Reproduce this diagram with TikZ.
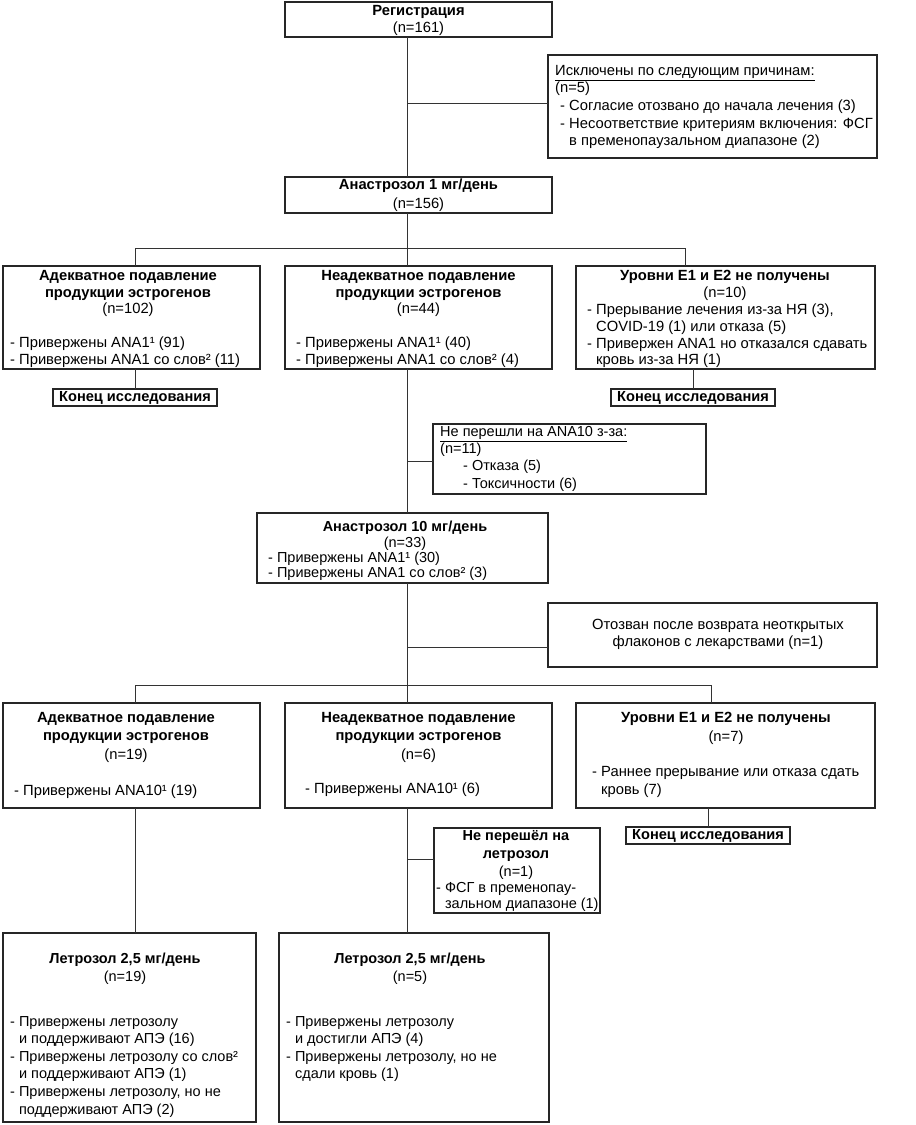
\documentclass[tikz,border=0pt]{standalone}
\usepackage{fontspec}
\setmainfont{Liberation Sans}
\begin{document}
\begin{tikzpicture}[x=1pt,y=-1pt,
  font=\fontsize{14.5}{16.8}\selectfont,
  box/.style={draw=black!85, line width=1.2pt, anchor=north west, inner sep=0pt, outer sep=0pt},
  endbox/.style={draw=black!85, line width=1.2pt, minimum width=164pt, minimum height=17pt, inner sep=0pt, outer sep=0pt, font=\fontsize{14.6}{16.8}\selectfont\bfseries},
  conn/.style={draw=black!80, line width=0.9pt},
  ttl/.style={anchor=north, align=center, inner sep=0pt},
  lst/.style={anchor=north west, align=left, inner sep=0pt},
  lsk/.style={font=\fontsize{14.5}{#1}\selectfont},
  tsk/.style={font=\fontsize{14.75}{#1}\selectfont},
]
\useasboundingbox (0,0) rectangle (916,1125);

% ---------- boxes ----------
\node[box, minimum width=267pt, minimum height=35pt]  (reg)  at (285,2) {};
\node[box, minimum width=329pt, minimum height=103pt] (excl) at (548,55) {};
\node[box, minimum width=267pt, minimum height=36pt]  (an1)  at (285,177) {};
\node[box, minimum width=257pt, minimum height=103pt] (ra)   at (3,266) {};
\node[box, minimum width=267pt, minimum height=103pt] (rb)   at (285,266) {};
\node[box, minimum width=299pt, minimum height=103pt] (rc)   at (576,266) {};
\node[endbox] (ea) at (135,397.5) {Конец исследования};
\node[endbox] (ec) at (693,397.5) {Конец исследования};
\node[box, minimum width=273pt, minimum height=70pt]  (np)   at (433,424) {};
\node[box, minimum width=291pt, minimum height=70pt]  (an10) at (257,513) {};
\node[box, minimum width=329pt, minimum height=64pt]  (ot)   at (548,603) {};
\node[box, minimum width=257pt, minimum height=105pt] (sa)   at (3,703) {};
\node[box, minimum width=267pt, minimum height=105pt] (sb)   at (285,703) {};
\node[box, minimum width=299pt, minimum height=105pt] (sc)   at (576,703) {};
\node[endbox] (ec3) at (708,835.5) {Конец исследования};
\node[box, minimum width=166pt, minimum height=85pt]  (nl)   at (434,828) {};
\node[box, minimum width=253pt, minimum height=189pt] (la)   at (3,933) {};
\node[box, minimum width=270pt, minimum height=189pt] (lb)   at (279,933) {};

% ---------- texts ----------
\node[ttl, tsk=17] at (418.5,5) {\textbf{Регистрация}\\(n=161)};
\node[lst, tsk=17.6] at (555,65) {\underline{Исключены по следующим причинам:}\\(n=5)\\\hspace*{5pt}- Согласие отозвано до начала лечения (3)\\\hspace*{5pt}- Несоответствие критериям включения: ФСГ\\\hspace*{5pt}\phantom{- }в пременопаузальном диапазоне (2)};
\node[ttl, tsk=19] at (418.5,179) {\textbf{Анастрозол 1 мг/день}\\(n=156)};

\node[ttl, tsk=16.8] at (128,270) {\textbf{Адекватное подавление}\\\textbf{продукции эстрогенов}\\(n=102)};
\node[lst, tsk=16.8] at (10,337) {- Привержены ANA1¹ (91)\\- Привержены ANA1 со слов² (11)};
\node[ttl, tsk=16.8] at (418.5,270) {\textbf{Неадекватное подавление}\\\textbf{продукции эстрогенов}\\(n=44)};
\node[lst, tsk=16.8] at (296,337) {- Привержены ANA1¹ (40)\\- Привержены ANA1 со слов² (4)};
\node[ttl, tsk=17] at (725,270) {\textbf{Уровни E1 и E2 не получены}\\(n=10)};
\node[lst, tsk=16.6] at (587,304) {- Прерывание лечения из-за НЯ (3),\\\phantom{- }COVID-19 (1) или отказа (5)\\- Привержен ANA1 но отказался сдавать\\\phantom{- }кровь из-за НЯ (1)};

\node[lst, lsk=17.3] at (440,426) {\underline{Не перешли на ANA10 з-за:}\\(n=11)\\\hspace*{23pt}- Отказа (5)\\\hspace*{23pt}- Токсичности (6)};

\node[ttl, lsk=16] at (405,521) {\textbf{Анастрозол 10 мг/день}\\(n=33)};
\node[lst, lsk=15] at (268,552) {- Привержены ANA1¹ (30)\\- Привержены ANA1 со слов² (3)};

\node[ttl, tsk=17] at (718,619) {Отозван после возврата неоткрытых\\флаконов с лекарствами (n=1)};

\node[ttl, tsk=18.5] at (126,712) {\textbf{Адекватное подавление}\\\textbf{продукции эстрогенов}\\(n=19)};
\node[lst, tsk=16] at (14,785) {- Привержены ANA10¹ (19)};
\node[ttl, tsk=18.5] at (418.5,712) {\textbf{Неадекватное подавление}\\\textbf{продукции эстрогенов}\\(n=6)};
\node[lst, tsk=16] at (305,783) {- Привержены ANA10¹ (6)};
\node[ttl, tsk=19] at (726,712) {\textbf{Уровни E1 и E2 не получены}\\(n=7)};
\node[lst, tsk=18] at (592,766) {- Раннее прерывание или отказа сдать\\\phantom{- }кровь (7)};

\node[ttl, lsk=18] at (516,830) {\textbf{Не перешёл на}\\\textbf{летрозол}\\(n=1)};
\node[lst, lsk=16] at (436,882) {- ФСГ в пременопау-\\\phantom{- }зальном диапазоне (1)};

\node[ttl, lsk=17.5] at (125,953) {\textbf{Летрозол 2,5 мг/день}\\(n=19)};
\node[lst, lsk=17.6] at (10,1016) {- Привержены летрозолу\\\phantom{- }и поддерживают АПЭ (16)\\- Привержены летрозолу со слов²\\\phantom{- }и поддерживают АПЭ (1)\\- Привержены летрозолу, но не\\\phantom{- }поддерживают АПЭ (2)};
\node[ttl, lsk=17.5] at (410,953) {\textbf{Летрозол 2,5 мг/день}\\(n=5)};
\node[lst, lsk=17.6] at (286,1016) {- Привержены летрозолу\\\phantom{- }и достигли АПЭ (4)\\- Привержены летрозолу, но не\\\phantom{- }сдали кровь (1)};

% ---------- connectors ----------
\coordinate (m) at (407,0);
\coordinate (ex) at ([yshift=3.5pt]excl.west);
\coordinate (npw) at ([yshift=-2pt]np.west);
\coordinate (otw) at ([yshift=-12pt]ot.west);
\coordinate (nlw) at ([yshift=11.5pt]nl.west);
\coordinate (b1) at (407,248);
\coordinate (jl) at (135,248);
\coordinate (jr) at (685,248);
\coordinate (b2) at (407,685);
\coordinate (kl) at (135,685);
\coordinate (kr) at (711,685);

\draw[conn] (reg.south -| m) -- (an1.north -| m);
\draw[conn] (m |- ex) -- (ex);
\draw[conn] (an1.south -| m) -- (b1);
\draw[conn] (jl) -- (jr);
\draw[conn] (jl) -- (ra.north -| jl);
\draw[conn] (b1) -- (rb.north -| m);
\draw[conn] (jr) -- (rc.north -| jr);
\draw[conn] (ra.south -| ea.north) -- (ea.north);
\draw[conn] (rc.south -| ec.north) -- (ec.north);
\draw[conn] (rb.south -| m) -- (an10.north -| m);
\draw[conn] (m |- npw) -- (npw);
\draw[conn] (an10.south -| m) -- (b2);
\draw[conn] (m |- otw) -- (otw);
\draw[conn] (kl) -- (kr);
\draw[conn] (kl) -- (sa.north -| kl);
\draw[conn] (b2) -- (sb.north -| m);
\draw[conn] (kr) -- (sc.north -| kr);
\draw[conn] (sa.south -| kl) -- (la.north -| kl);
\draw[conn] (sb.south -| m) -- (lb.north -| m);
\draw[conn] (m |- nlw) -- (nlw);
\draw[conn] (sc.south -| ec3.north) -- (ec3.north);
\end{tikzpicture}
\end{document}
